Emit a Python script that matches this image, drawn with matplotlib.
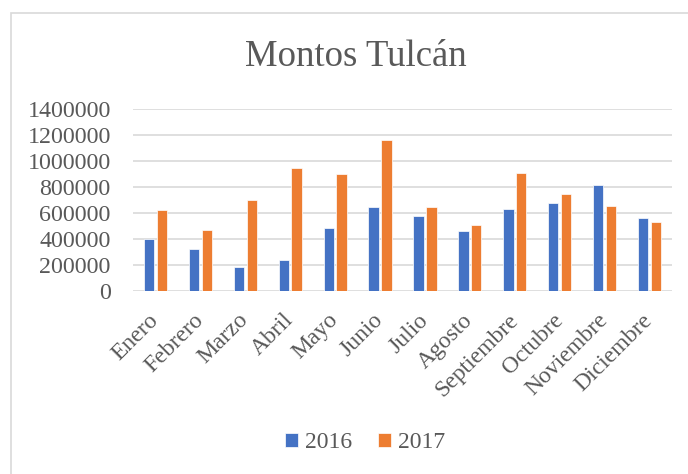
import matplotlib
matplotlib.use("Agg")
import matplotlib.pyplot as plt
import numpy as np
from matplotlib.patches import Rectangle

months = ["Enero", "Febrero", "Marzo", "Abril", "Mayo", "Junio", "Julio",
          "Agosto", "Septiembre", "Octubre", "Noviembre", "Diciembre"]
v2016 = [396000, 324000, 182000, 239000, 486000, 642000, 578000,
         457000, 632000, 673000, 812000, 557000]
v2017 = [622000, 470000, 701000, 945000, 899000, 1158000, 642000,
         503000, 909000, 747000, 655000, 529000]
yticks = [0, 200000, 400000, 600000, 800000, 1000000, 1200000, 1400000]

plt.rcParams['font.family'] = ['Liberation Serif', 'DejaVu Serif']
txt = '#595959'
fig = plt.figure(figsize=(6.88, 4.74), dpi=100)
fig.patches.append(Rectangle((11.5/688, -0.2), 1.0, 1.2 - 13/474,
                             transform=fig.transFigure, fill=False,
                             edgecolor='#D9D9D9', linewidth=1.2))
ax = fig.add_axes([133/688, (474-290.7)/474, 539/688, (290.7-109)/474])
x = np.arange(len(months))
w = 0.23
ax.bar(x - 0.143, v2016, w, color='#4472C4', edgecolor='white', linewidth=0.5, label='2016', zorder=3)
ax.bar(x + 0.143, v2017, w, color='#ED7D31', edgecolor='white', linewidth=0.5, label='2017', zorder=3)
ax.set_xlim(-0.5, len(months) - 0.5)
ax.set_ylim(0, 1400000)
ax.set_yticks(yticks)
ax.set_yticklabels([str(t) for t in yticks], fontsize=17.3, color=txt)
ax.set_xticks(x)
ax.set_xticklabels(months, rotation=45, ha='right', va='center', rotation_mode='anchor',
                   fontsize=17, color=txt)
ax.tick_params(length=0)
ax.tick_params(axis='x', pad=19)
ax.tick_params(axis='y', pad=16)
ax.grid(axis='y', color='#D9D9D9', linewidth=1.2, zorder=0)
for s in ax.spines.values():
    s.set_visible(False)
fig.text(355.5/688, 1 - 57/474, "Montos Tulcán", fontsize=26.5, color=txt, ha='center', va='center')
leg = fig.legend(loc='center', bbox_to_anchor=(365/688, 1 - 443/474), ncol=2, frameon=False,
                 fontsize=17, handlelength=0.55, handleheight=0.55, handletextpad=0.3,
                 columnspacing=1.1, labelcolor=txt)
fig.savefig("out.png", dpi=100)
